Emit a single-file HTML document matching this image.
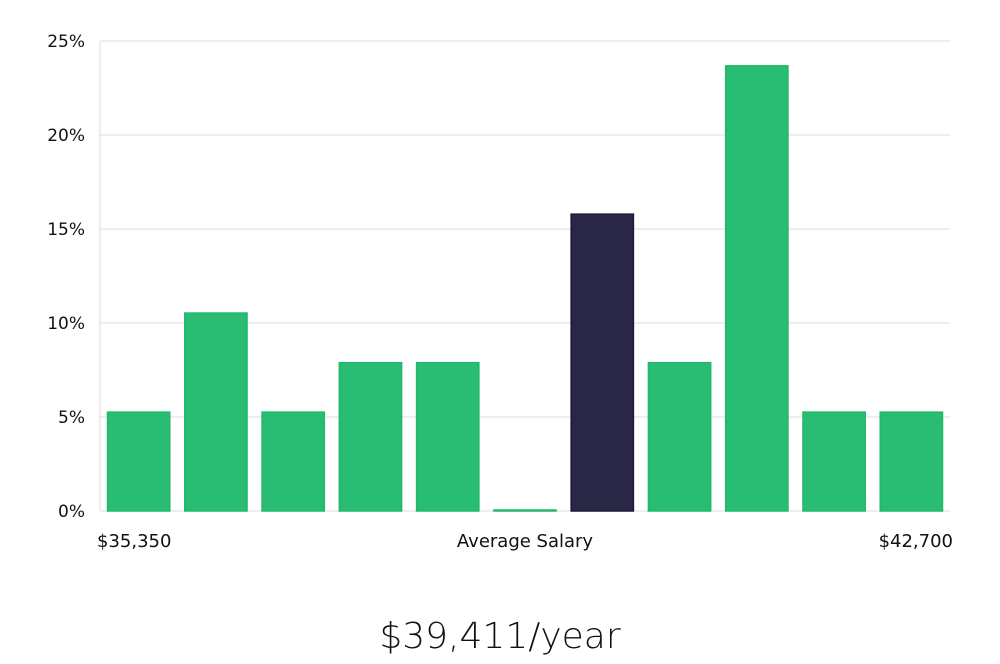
<!DOCTYPE html>
<html><head><meta charset="utf-8"><style>
body{margin:0;background:#fff;width:1000px;height:660px;overflow:hidden;font-family:"DejaVu Sans","Liberation Sans",sans-serif;}
</style></head><body>
<svg id="chart" width="1000" height="660" xmlns="http://www.w3.org/2000/svg">
<g id="grid"></g><g id="bars"></g><g id="labels"></g>
<text x="500" y="648" text-anchor="middle" font-size="36" fill="#111" font-family="'DejaVu Sans','Liberation Sans',sans-serif" font-weight="300">$39,411/year</text>
</svg>
<script>
const categories = ["b1","b2","b3","b4","b5","b6","b7","b8","b9","b10","b11"];
const values = [5.26,10.53,5.26,7.89,7.89,0,15.79,7.89,23.68,5.26,5.26];
const highlight = [false,false,false,false,false,false,true,false,false,false,false];
const yTicks = [0,5,10,15,20,25];
const yTickLabels = ["0%","5%","10%","15%","20%","25%"];
const xLabels = ["$35,350","Average Salary","$42,700"];
const NS="http://www.w3.org/2000/svg";
const L=100,R=950,T=41,B=511,yMax=25;
const y=v=>B-(v/yMax)*(B-T);
const slot=(R-L)/categories.length;
const x=i=>L+i*slot;
function mk(tag,attrs,parent){const e=document.createElementNS(NS,tag);for(const k in attrs)e.setAttribute(k,attrs[k]);parent.appendChild(e);return e;}
const grid=document.getElementById('grid'),bars=document.getElementById('bars'),labels=document.getElementById('labels');
yTicks.forEach((t,i)=>{
 const ln=mk('line',{x1:L,x2:R,y1:y(t),y2:y(t),stroke:'#dcdcdc','stroke-width':1},grid);
 
 
 const tx=mk('text',{x:85,y:y(t)+6,'text-anchor':'end','font-size':17,fill:'#111'},labels);
 tx.textContent=yTickLabels[i];
 
 
});
const ax=mk('line',{x1:L,x2:L,y1:T,y2:B,stroke:'#dcdcdc','stroke-width':1},grid);


values.forEach((v,i)=>{
 const h=Math.max(y(0)-y(v),1);
 const r=mk('rect',{x:x(i)+7.5,y:y(0)-h,width:slot-15,height:h,fill:highlight[i]?'#2a2645':'#29bd74',stroke:highlight[i]?'#1c1a3a':'#22b86c','stroke-width':1.5},bars);
 
 
});
const pos=[[97,'start'],[525,'middle'],[953,'end']];
xLabels.forEach((s,i)=>{
 const t=mk('text',{x:pos[i][0],y:547,'text-anchor':pos[i][1],'font-size':18,fill:'#111'},labels);
 t.textContent=s;
 
 
});
</script>
</body></html>
